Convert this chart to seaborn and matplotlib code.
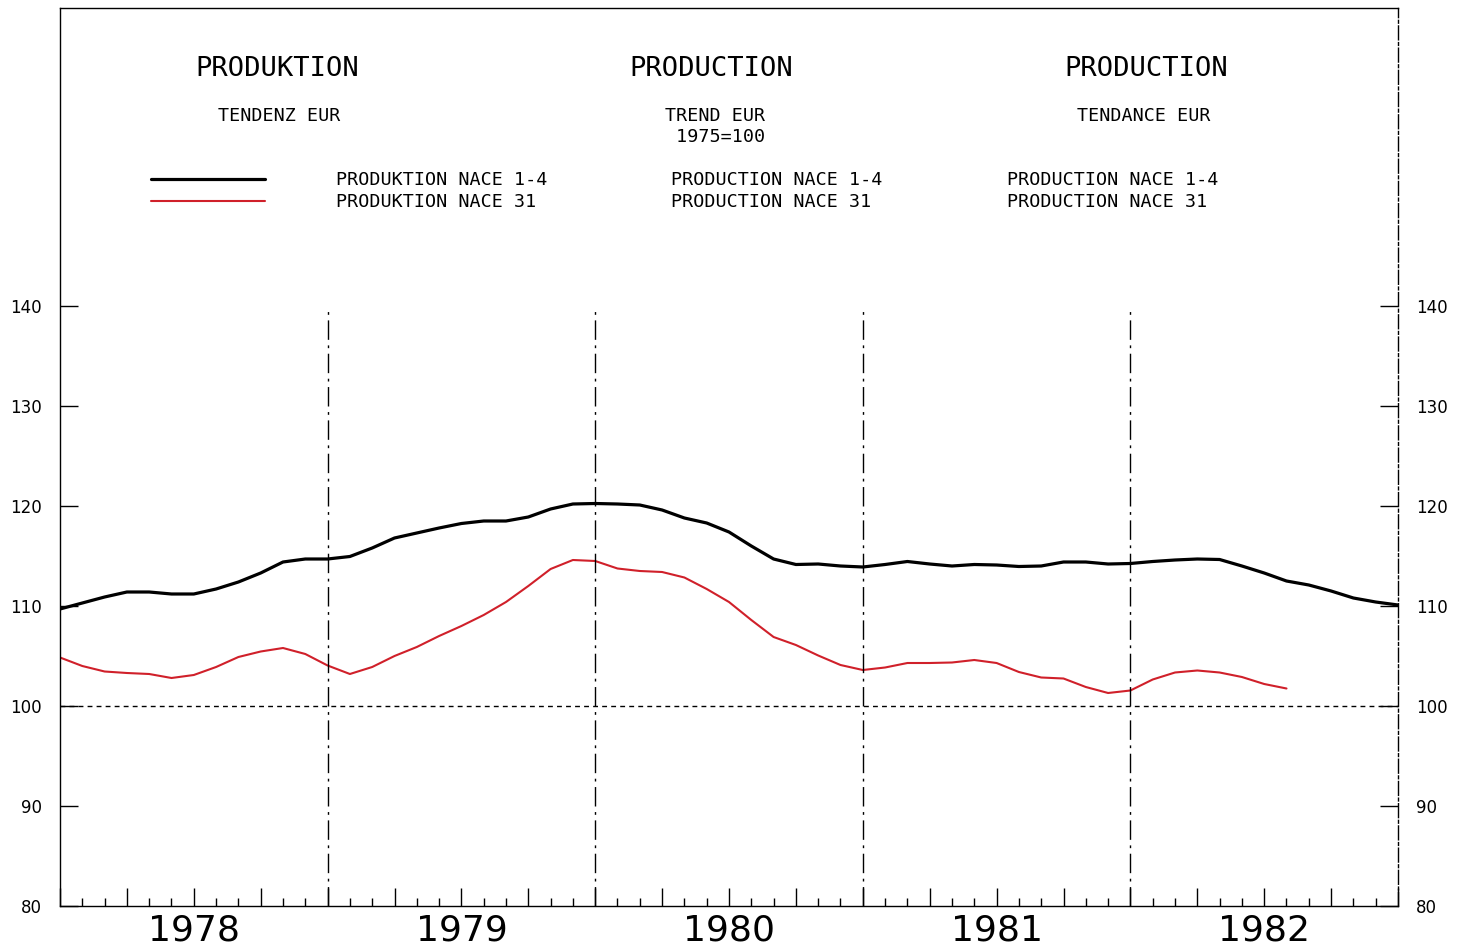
import numpy as np
import pandas as pd
import seaborn as sns
import matplotlib.pyplot as plt

# monthly trend indices, 1975=100, starting January 1978
nace_1_4 = [109.7, 110.3, 110.9, 111.4, 111.4, 111.2, 111.2, 111.7, 112.4, 113.3, 114.4, 114.7,
            114.7, 114.95, 115.8, 116.8, 117.3, 117.8, 118.25, 118.5, 118.5, 118.9, 119.7, 120.2,
            120.25, 120.2, 120.1, 119.6, 118.8, 118.3, 117.4, 116.0, 114.7, 114.15, 114.2, 114.0,
            113.9, 114.15, 114.45, 114.2, 114.0, 114.15, 114.1, 113.95, 114.0, 114.4, 114.4, 114.2,
            114.25, 114.45, 114.6, 114.7, 114.65, 114.0, 113.3, 112.5, 112.1, 111.5, 110.8, 110.4,
            110.1]
nace_31 = [104.85, 104.0, 103.45, 103.3, 103.2, 102.8, 103.1, 103.9, 104.9, 105.45, 105.8, 105.2,
           104.05, 103.2, 103.9, 105.0, 105.9, 107.0, 108.0, 109.1, 110.4, 112.0, 113.7, 114.6,
           114.5, 113.75, 113.5, 113.4, 112.85, 111.7, 110.4, 108.6, 106.9, 106.1, 105.05, 104.1,
           103.6, 103.85, 104.3, 104.3, 104.35, 104.6, 104.3, 103.4, 102.85, 102.75, 101.9, 101.3,
           101.55, 102.65, 103.35, 103.55, 103.35, 102.9, 102.2, 101.75]

years = [1978, 1979, 1980, 1981, 1982]
y_ticks = [80, 90, 100, 110, 120, 130, 140]

titles = ["PRODUKTION", "PRODUCTION", "PRODUCTION"]
subtitles = ["TENDENZ EUR", "TREND EUR\n 1975=100", "TENDANCE EUR"]
labels_de = ["PRODUKTION NACE 1-4", "PRODUKTION NACE 31"]
labels_en = ["PRODUCTION NACE 1-4", "PRODUCTION NACE 31"]
labels_fr = ["PRODUCTION NACE 1-4", "PRODUCTION NACE 31"]

black_df = pd.DataFrame({"t": 1978 + np.arange(len(nace_1_4)) / 12, "v": nace_1_4})
red_df = pd.DataFrame({"t": 1978 + np.arange(len(nace_31)) / 12, "v": nace_31})

sns.set_theme(style="ticks", rc={"axes.edgecolor": "black", "text.color": "black",
                                 "xtick.color": "black", "ytick.color": "black",
                                 "axes.linewidth": 1.0})
plt.rcParams['font.family'] = ['DejaVu Sans']

fig = plt.figure(figsize=(14.63, 9.5), dpi=100)
ax = fig.add_axes([60 / 1463, 44 / 950, 1338 / 1463, 898 / 950])

sns.lineplot(data=black_df, x="t", y="v", color="black", lw=2.3, ax=ax, label=labels_de[0])
sns.lineplot(data=red_df, x="t", y="v", color="#d0202a", lw=1.5, ax=ax, label=labels_de[1])

ax.set_xlim(1978, 1983)
ax.set_ylim(80, 169.8)
ax.set_xlabel("")
ax.set_ylabel("")

# reference line and year separators
ax.axhline(100, color="black", lw=1, ls=(0, (3.5, 3)))
ax.vlines(years[1:], 80, 140, colors="black", lw=1, linestyles=(0, (14, 4, 2, 4)))
ax.spines["right"].set_linestyle((0, (10, 2, 2, 2)))

# y axis, both sides
ax.set_yticks(y_ticks)
ax.tick_params(axis="y", direction="in", length=13, width=1, left=True, right=True,
               labelleft=True, labelright=True, labelsize=12, pad=13)

# x axis: monthly minor ticks, quarterly major ticks, year names centred
ax.set_xticks(np.arange(1978, 1983.01, 0.25))
ax.set_xticks(np.arange(1978, 1983.01, 1 / 12), minor=True)
ax.set_xticklabels([])
ax.tick_params(axis="x", which="major", direction="in", length=13, width=1, bottom=True)
ax.tick_params(axis="x", which="minor", direction="in", length=6, width=1, bottom=True)
for yr in years:
    ax.text(yr + 0.5, -0.0379, str(yr), transform=ax.get_xaxis_transform(),
            ha="center", va="baseline", fontsize=26)

# header block
mono = "DejaVu Sans Mono"
fs = 13.2
for xc, t in zip([0.162, 0.487, 0.812], titles):
    ax.text(xc, 0.932, t, transform=ax.transAxes, ha="center", va="center",
            family=mono, fontsize=19.5)
ax.text(0.164, 0.880, subtitles[0], transform=ax.transAxes, ha="center", va="center",
        family=mono, fontsize=fs)
ax.text(0.452, 0.890, subtitles[1], transform=ax.transAxes, ha="left", va="top",
        family=mono, fontsize=fs, linespacing=1.2)
ax.text(0.810, 0.880, subtitles[2], transform=ax.transAxes, ha="center", va="center",
        family=mono, fontsize=fs)

ax.legend(loc="upper left", bbox_to_anchor=(0.068, 0.8185), frameon=False,
          handlelength=6.2, handletextpad=3.9, labelspacing=0.22, borderpad=0,
          borderaxespad=0, prop={"family": mono, "size": fs})
for xl, labs in zip([0.457, 0.708], [labels_en, labels_fr]):
    ax.text(xl, 0.808, labs[0], transform=ax.transAxes, ha="left", va="center",
            family=mono, fontsize=fs)
    ax.text(xl, 0.784, labs[1], transform=ax.transAxes, ha="left", va="center",
            family=mono, fontsize=fs)

fig.savefig("out.png", dpi=100, facecolor="white")
